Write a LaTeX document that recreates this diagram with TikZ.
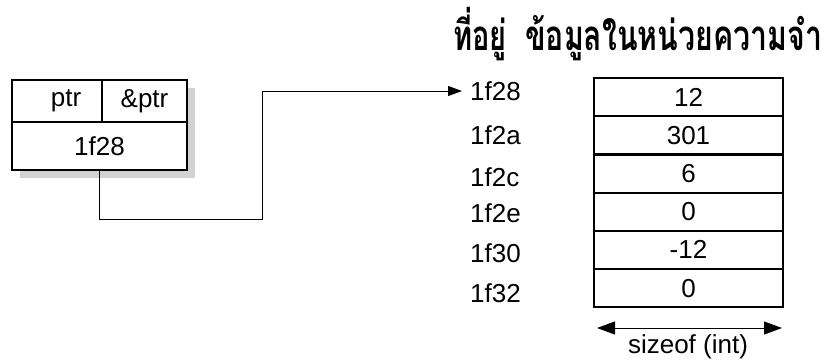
\documentclass[tikz,border=0pt]{standalone}
\usepackage{fontspec}
\setmainfont{Liberation Sans}
\newfontfamily\thaifont[Script=Thai]{Loma}
\usetikzlibrary{arrows.meta}
\tikzset{>={Stealth[length=14pt,width=10pt,inset=0pt]}}
\tikzset{cell/.style={draw, line width=2.2pt, minimum width=189pt, minimum height=38.2pt, inner sep=0pt}}
\tikzset{head/.style={anchor=base west, inner sep=0pt, font=\thaifont\bfseries\fontsize{42}{46}\selectfont}}

\begin{document}
\begin{tikzpicture}[x=1pt, y=-1pt, font=\fontsize{26}{30}\selectfont]
\useasboundingbox (0,0) rectangle (825,360);
% pointer variable
\fill[gray!35] (20,88) rectangle (195,178);
\node[draw, line width=2.2pt, fill=white, minimum width=90pt, minimum height=42pt, inner sep=0pt] (ptr) at (57,101) {\hspace*{18pt}ptr};
\node[draw, line width=2.2pt, fill=white, minimum width=85pt, minimum height=42pt, inner sep=0pt] (aptr) at (144.5,101) {\&ptr};
\node[draw, line width=2.2pt, fill=white, minimum width=175pt, minimum height=48pt, inner sep=0pt] (val) at (99.5,146) {1f28};
% headers
\node[head] (haddr) at (453,50) {\scalebox{0.69}[1]{ที่อยู่}};
\node[head] (hdata) at (525,50) {\scalebox{0.72}[1]{ข้อมูลในหน่วยความจำ}};
% addresses
\foreach \a/\y [count=\i from 0] in {1f28/91,1f2a/135,1f2c/177,1f2e/213,1f30/253,1f32/293}
\node[anchor=west, inner sep=4pt] (a\i) at (466,\y) {\a};
% memory cells
\foreach \v [count=\i from 0] in {12,301,6,0,-12,0}
\node[cell] (m\i) at (688.5,97.1+38.2*\i) {\v};
% pointer arrow
\draw[->, line width=1pt, shorten >=4pt] (val.south) |- (262,219) |- (a0.west);
% size of one cell
\coordinate (sl) at (597,328);
\coordinate (sr) at (782,328);
\draw[{Stealth[length=18pt,width=13pt,inset=0pt]}-{Stealth[length=18pt,width=13pt,inset=0pt]}, line width=1pt] (sl) -- (sr);
\node (size) at (688,347) {sizeof (int)};
\end{tikzpicture}
\end{document}
